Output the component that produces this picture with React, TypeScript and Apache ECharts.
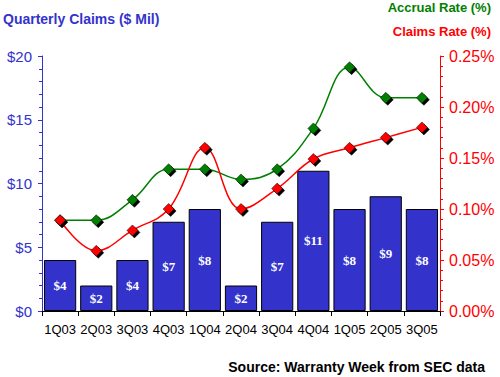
import React, { useEffect, useRef } from "react";
import * as echarts from "echarts";

const categories = ["1Q03", "2Q03", "3Q03", "4Q03", "1Q04", "2Q04", "3Q04", "4Q04", "1Q05", "2Q05", "3Q05"];
const claims = [4, 2, 4, 7, 8, 2, 7, 11, 8, 9, 8];
const accrualRate = [0.089, 0.089, 0.109, 0.139, 0.139, 0.129, 0.139, 0.179, 0.239, 0.209, 0.209];
const claimsRate = [0.089, 0.059, 0.079, 0.1, 0.16, 0.1, 0.12, 0.149, 0.16, 0.17, 0.18];

const BLUE = "#3333cc";
const GREEN = "#008000";
const RED = "#ff0000";

export default function App() {
  const ref = useRef<HTMLDivElement>(null);
  useEffect(() => {
    const chart = echarts.init(ref.current!, undefined, { renderer: "svg" });
    const markerStyle = (c: string) => ({
      color: c,
      borderColor: "#000",
      borderWidth: 0.5,
      shadowColor: "#000",
      shadowOffsetX: 2,
      shadowOffsetY: 2,
      shadowBlur: 0,
    });
    chart.setOption({
      animation: false,
      backgroundColor: "#fff",
      textStyle: { fontFamily: "Liberation Sans, Arial, sans-serif" },
      graphic: [
        { type: "text", left: 3, top: 12, style: { text: "Quarterly Claims ($ Mil)", fill: BLUE, font: "bold 14px Liberation Sans, Arial, sans-serif" } },
        { type: "text", right: 9, top: 1, style: { text: "Accrual Rate (%)", fill: GREEN, font: "bold 13px Liberation Sans, Arial, sans-serif" } },
        { type: "text", right: 9, top: 25, style: { text: "Claims Rate (%)", fill: RED, font: "bold 13px Liberation Sans, Arial, sans-serif" } },
        { type: "text", right: 15, top: 360, style: { text: "Source: Warranty Week from SEC data", fill: "#000", font: "bold 14px Liberation Sans, Arial, sans-serif" } },
      ],
      grid: { left: 42, right: 60, top: 56, bottom: 66, containLabel: false },
      xAxis: {
        type: "category",
        data: categories,
        axisLine: { lineStyle: { color: "#000", width: 1 } },
        axisTick: { show: true, length: 5, lineStyle: { color: "#000" } },
        axisLabel: { color: "#000", fontSize: 13, margin: 12, interval: 0 },
      },
      yAxis: [
        {
          type: "value",
          min: 0,
          max: 20,
          interval: 5,
          position: "left",
          splitLine: { show: false },
          axisLine: { show: true, lineStyle: { color: BLUE } },
          axisTick: { show: true, length: 4, lineStyle: { color: BLUE } },
          minorTick: { show: true, splitNumber: 5, length: 3, lineStyle: { color: BLUE } },
          axisLabel: { color: BLUE, fontSize: 15, margin: 10, formatter: (v: number) => "$" + v },
        },
        {
          type: "value",
          min: 0,
          max: 0.25,
          interval: 0.05,
          position: "right",
          splitLine: { show: false },
          axisLine: { show: true, lineStyle: { color: RED } },
          axisTick: { show: true, length: 4, lineStyle: { color: RED } },
          minorTick: { show: true, splitNumber: 5, length: 3, lineStyle: { color: RED } },
          axisLabel: { color: RED, fontSize: 16, margin: 9, formatter: (v: number) => v.toFixed(2) + "%" },
        },
      ],
      series: [
        {
          type: "bar",
          data: claims,
          yAxisIndex: 0,
          barCategoryGap: "11%",
          itemStyle: { color: BLUE, borderColor: "#000", borderWidth: 1 },
          label: {
            show: true,
            position: "inside",
            color: "#fff",
            fontFamily: "Liberation Serif, Times New Roman, serif",
            fontWeight: "bold",
            fontSize: 13,
            formatter: (p: any) => "$" + p.value,
          },
          z: 1,
        },
        {
          type: "line",
          data: accrualRate,
          yAxisIndex: 1,
          smooth: 0.4,
          symbol: "diamond",
          symbolSize: 11,
          lineStyle: { color: GREEN, width: 1.5 },
          itemStyle: markerStyle(GREEN),
          z: 3,
        },
        {
          type: "line",
          data: claimsRate,
          yAxisIndex: 1,
          smooth: 0.4,
          symbol: "diamond",
          symbolSize: 11,
          lineStyle: { color: RED, width: 1.5 },
          itemStyle: markerStyle(RED),
          z: 4,
        },
      ],
    });
    return () => chart.dispose();
  }, []);
  return <div ref={ref} style={{ width: 500, height: 377, position: "absolute", left: 0, top: 0 }} />;
}
